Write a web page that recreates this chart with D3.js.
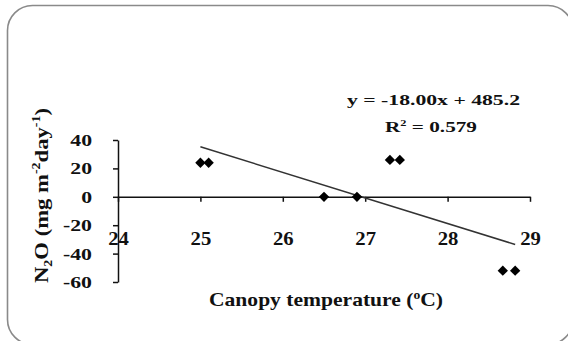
<!DOCTYPE html>
<html>
<head>
<meta charset="utf-8">
<script src="https://cdn.jsdelivr.net/npm/d3@7"></script>
<style>
  html, body { margin: 0; padding: 0; background: #fff; }
  svg { display: block; }
</style>
</head>
<body>
<svg id="chart" width="568" height="341"></svg>
<script>
// Canopy temperature (°C) vs N2O flux (mg m-2 day-1)
const canopyTemp = [25.0, 25.1, 26.5, 26.9, 27.3, 27.42, 28.67, 28.82];
const n2oFlux    = [24, 24, 0, 0, 26, 26, -52, -52];
const xTicks = [24, 25, 26, 27, 28, 29];
const yTicks = [-60, -40, -20, 0, 20, 40];
const slope = -18.00;
const intercept = 485.2;
const rSquared = 0.579;

const SERIF = "'Liberation Serif'";
const INK = "#111";

const svg = d3.select("#chart");

// widen a text element by a factor (the typeface is set wide)
function widen(sel, factor) {
  sel.each(function () {
    const w = this.getComputedTextLength();
    d3.select(this).attr("textLength", w * factor).attr("lengthAdjust", "spacingAndGlyphs");
  });
}
function fitTo(sel, width) {
  sel.attr("textLength", width).attr("lengthAdjust", "spacingAndGlyphs");
}
function serif(sel, size) {
  return sel.style("font-family", SERIF).style("font-weight", "bold")
    .style("font-size", size + "px").style("fill", INK);
}

// rounded frame
svg.append("rect")
  .attr("x", 7.5).attr("y", 5.5)
  .attr("width", 565.5).attr("height", 339)
  .attr("rx", 25).attr("ry", 25)
  .attr("fill", "#fff")
  .attr("stroke", "#8a8a8a").attr("stroke-width", 1.6);

const x = d3.scaleLinear().domain([24, 29]).range([118, 530]);
const y = d3.scaleLinear().domain([-60, 40]).range([282, 140]);
const plain = d => String(d);

// y axis
const yAxis = svg.append("g")
  .attr("transform", `translate(${x(24)},0)`)
  .call(d3.axisLeft(y).tickValues(yTicks).tickFormat(plain)
    .tickSize(5).tickSizeOuter(0).tickPadding(21));
// x axis through zero
const xAxis = svg.append("g")
  .attr("transform", `translate(0,${y(0)})`)
  .call(d3.axisBottom(x).tickValues(xTicks).tickFormat(plain)
    .tickSize(5).tickSizeOuter(0).tickPadding(30));

[yAxis, xAxis].forEach(g => {
  g.attr("font-family", null);
  g.select(".domain").attr("stroke", INK).attr("stroke-width", 1.5);
  g.selectAll(".tick line").attr("stroke", INK).attr("stroke-width", 1.5);
});
const yLabels = serif(yAxis.selectAll(".tick text"), 17);
widen(yLabels, 1.28);
const xLabels = serif(xAxis.selectAll(".tick text"), 18).attr("dy", "0.71em");
widen(xLabels, 1.15);

// regression line over the data range
const xr = d3.extent(canopyTemp);
svg.append("line")
  .attr("x1", x(xr[0])).attr("y1", y(slope * xr[0] + intercept))
  .attr("x2", x(xr[1])).attr("y2", y(slope * xr[1] + intercept))
  .attr("stroke", "#333").attr("stroke-width", 1.5);

// diamond markers
const diamond = d3.symbol().type(d3.symbolDiamond2).size(68);
svg.append("g").selectAll("path")
  .data(canopyTemp.map((t, i) => [t, n2oFlux[i]]))
  .join("path")
  .attr("d", diamond)
  .attr("transform", d => `translate(${x(d[0])},${y(d[1])})`)
  .attr("fill", "#000");

// equation and R²
const eq = serif(svg.append("text"), 15.5)
  .attr("x", 347).attr("y", 105)
  .text(`y = ${slope.toFixed(2)}x + ${intercept}`);
fitTo(eq, 173);
const r2 = serif(svg.append("text"), 15.5)
  .attr("x", 385).attr("y", 132);
r2.append("tspan").text("R");
r2.append("tspan").style("font-size", "9px").attr("dy", -6).text("2");
r2.append("tspan").attr("dy", 6).text(` = ${rSquared}`);
fitTo(r2, 92);

// axis titles
const xt = serif(svg.append("text"), 19)
  .attr("x", 209).attr("y", 306);
xt.append("tspan").text("Canopy temperature (");
xt.append("tspan").style("font-size", "12px").attr("dy", -7).text("o");
xt.append("tspan").attr("dy", 7).text("C)");
fitTo(xt, 234);

const yt = serif(svg.append("text"), 19.5)
  .attr("transform", "translate(48,283) rotate(-90)")
  .attr("x", 0).attr("y", 0);
yt.append("tspan").text("N");
yt.append("tspan").style("font-size", "12px").attr("dy", 4).text("2");
yt.append("tspan").attr("dy", -4).text("O (mg m");
yt.append("tspan").style("font-size", "12px").attr("dy", -8).text("-2");
yt.append("tspan").attr("dy", 8).text("day");
yt.append("tspan").style("font-size", "12px").attr("dy", -8).text("-1");
yt.append("tspan").attr("dy", 8).text(")");
fitTo(yt, 175);
</script>
</body>
</html>
